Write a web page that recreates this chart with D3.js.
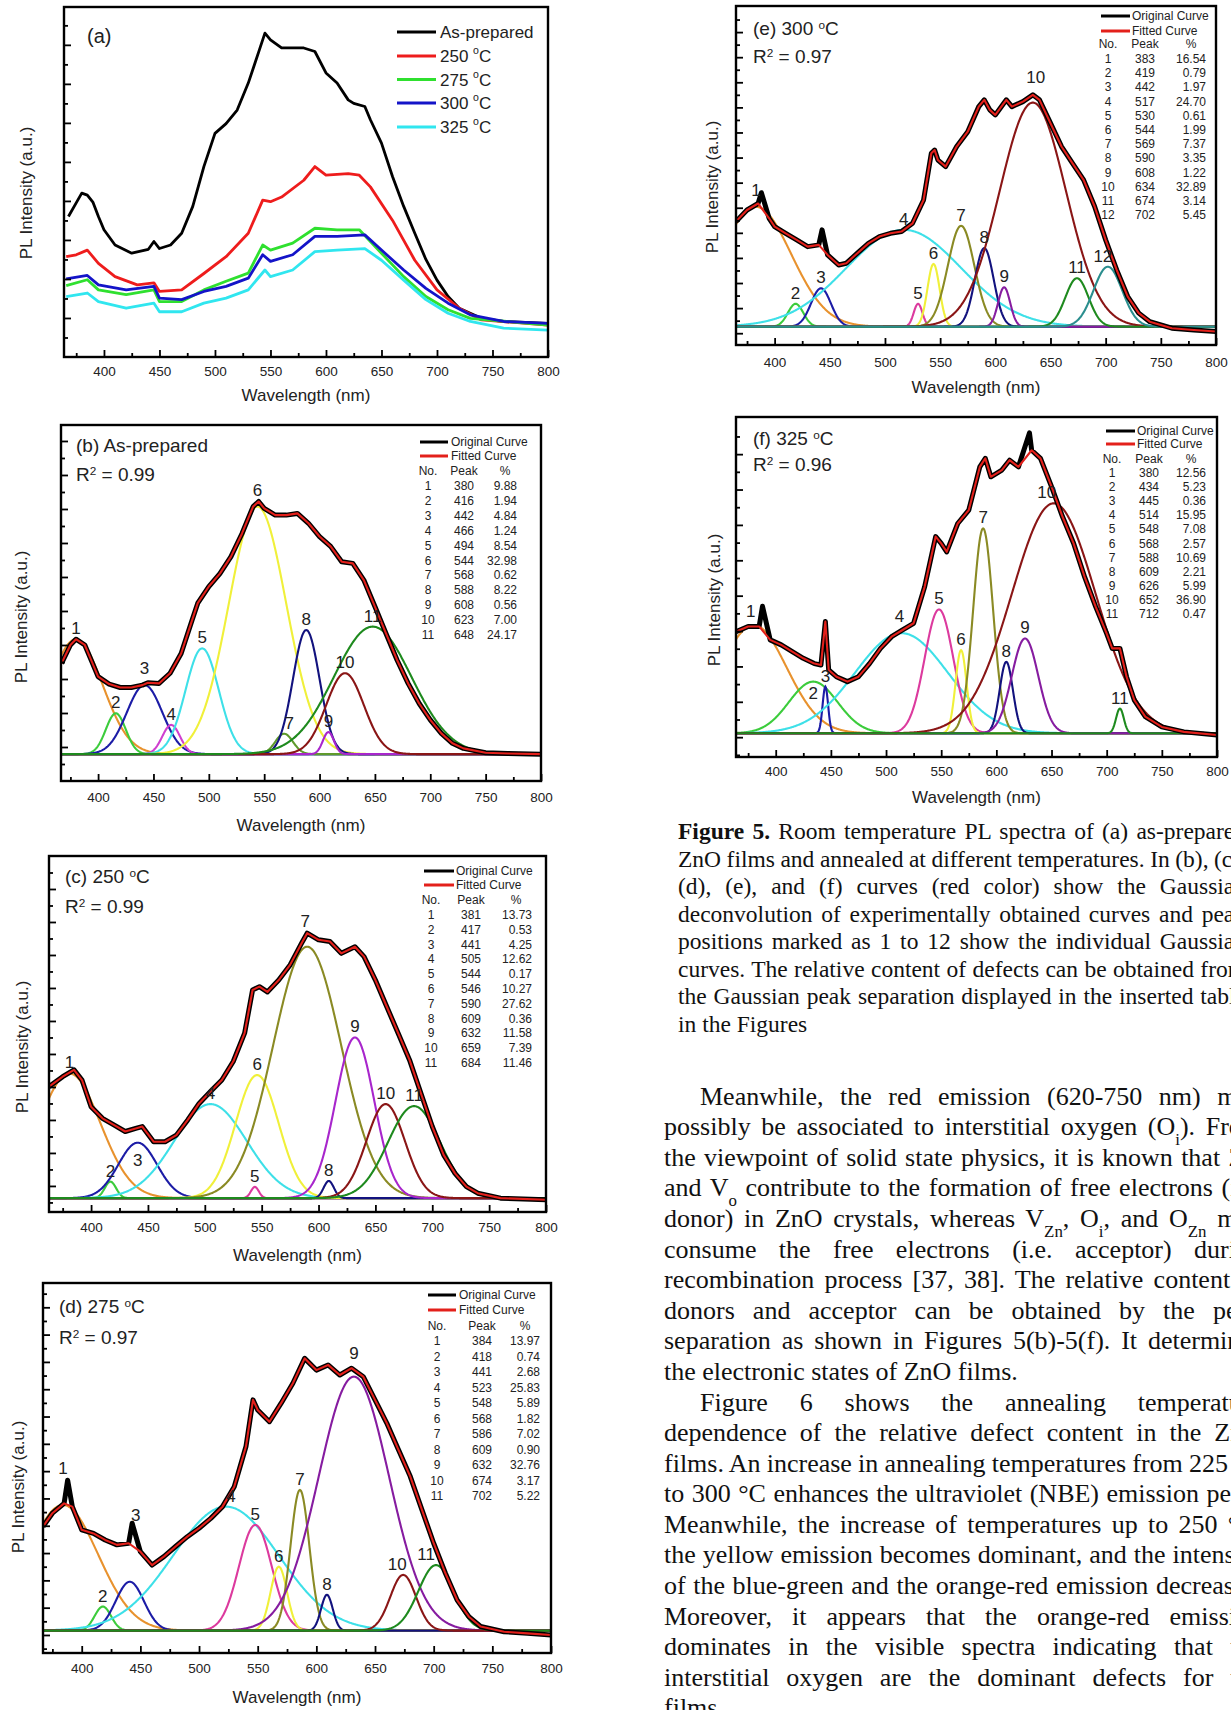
<!DOCTYPE html>
<html>
<head>
<meta charset="utf-8">
<script src="https://cdn.jsdelivr.net/npm/d3@7"></script>
<style>
  html, body { margin: 0; padding: 0; background: #fff; }
  svg { display: block; }
</style>
</head>
<body>
<div id="page"></div>
<script>
// ---------- data (wavelength nm, intensity a.u.) ----------

// (a) raw spectra
const aAsPrepared = [[368,3.6],[375,3.95],[380,4.2],[385,4.15],[390,3.97],[395,3.6],[400,3.26],[410,2.87],[425,2.66],[440,2.76],[445,2.96],[450,2.78],[460,2.87],[470,3.17],[480,3.86],[490,4.88],[500,5.73],[510,5.98],[520,6.33],[530,7.02],[540,7.87],[545,8.3],[550,8.13],[560,7.92],[570,7.92],[580,7.92],[590,7.83],[600,7.28],[610,7.02],[620,6.59],[625,6.5],[635,6.42],[640,6.08],[650,5.48],[660,4.62],[670,3.86],[680,3.17],[690,2.5],[700,1.97],[710,1.55],[720,1.25],[740,0.99],[760,0.91],[800,0.86]];
const a250 = [[366,2.57],[375,2.62],[385,2.74],[395,2.4],[410,2.06],[430,1.85],[445,1.9],[450,1.68],[470,1.72],[490,2.14],[510,2.57],[530,3.17],[543,4.02],[550,3.98],[560,4.1],[580,4.53],[590,4.88],[600,4.66],[620,4.7],[630,4.66],[640,4.36],[660,3.5],[680,2.48],[700,1.72],[720,1.25],[740,0.95],[800,0.82]];
const a275 = [[366,1.83],[385,1.98],[395,1.72],[420,1.6],[445,1.72],[450,1.42],[470,1.42],[490,1.72],[510,1.94],[530,2.15],[543,2.87],[550,2.74],[570,2.92],[590,3.3],[610,3.26],[630,3.26],[650,2.66],[670,2.06],[690,1.55],[710,1.21],[730,0.99],[800,0.82]];
const a300 = [[366,2.0],[385,2.09],[395,1.85],[420,1.72],[445,1.81],[450,1.51],[470,1.47],[490,1.68],[510,1.81],[530,2.02],[543,2.62],[550,2.45],[570,2.62],[590,3.09],[610,3.09],[635,3.13],[650,2.74],[670,2.23],[690,1.76],[710,1.38],[730,1.08],[760,0.91],[800,0.86]];
const a325 = [[366,1.55],[385,1.64],[395,1.42],[420,1.25],[445,1.38],[450,1.16],[470,1.16],[490,1.38],[510,1.51],[530,1.72],[545,2.23],[550,2.06],[570,2.23],[590,2.7],[610,2.74],[635,2.78],[650,2.48],[670,1.97],[690,1.47],[710,1.12],[730,0.91],[760,0.74],[800,0.69]];
const aNames = ["As-prepared", "250", "275", "300", "325"];

// (b) as-prepared
const bSpectrum = [[367,3.46],[375,4.0],[380,4.17],[388,4.0],[395,3.46],[400,3.07],[410,2.85],[420,2.75],[430,2.75],[440,2.82],[445,2.89],[455,2.87],[465,3.17],[475,3.75],[485,4.74],[490,5.23],[500,5.72],[510,6.1],[520,6.6],[530,7.28],[540,8.07],[545,8.22],[550,8.02],[560,7.82],[570,7.82],[580,7.87],[590,7.58],[600,7.19],[610,6.9],[620,6.45],[630,6.4],[640,5.91],[650,5.13],[660,4.34],[670,3.56],[680,2.87],[690,2.28],[700,1.8],[710,1.4],[720,1.11],[730,0.96],[750,0.83],[770,0.81],[800,0.79]];
const bSpikes = [];
const bPeaks = [380,416,442,466,494,544,568,588,608,623,648];
const bPct = [9.88,1.94,4.84,1.24,8.54,32.98,0.62,8.22,0.56,7.00,24.17];
const bAmp = [3.38,1.2,2.03,0.86,3.11,7.28,0.6,3.65,0.65,2.38,3.75];
const bSigma = [24,9,16,8,15,26,8,12,5,17,35];
const bBase = 0.79;

// (c) 250 C
const cSpectrum = [[363,3.01],[375,3.31],[385,3.52],[392,3.21],[400,2.4],[410,2.05],[420,1.85],[430,1.65],[440,1.75],[445,1.8],[455,1.34],[465,1.34],[475,1.54],[485,2.0],[495,2.5],[505,2.86],[515,3.21],[525,3.77],[535,4.63],[542,5.94],[548,6.04],[555,5.88],[565,6.24],[575,6.7],[585,7.35],[590,7.66],[600,7.46],[610,7.41],[620,7.05],[632,7.25],[640,6.95],[650,6.24],[660,5.43],[670,4.63],[680,3.82],[690,2.81],[700,1.8],[710,0.94],[720,0.38],[730,-0.02],[740,-0.22],[760,-0.37],[800,-0.42]];
const cSpikes = [];
const cPeaks = [381,417,441,505,544,546,590,609,632,659,684];
const cPct = [13.73,0.53,4.25,12.62,0.17,10.27,27.62,0.36,11.58,7.39,11.46];
const cAmp = [3.78,0.5,1.68,2.85,0.34,3.73,7.62,0.52,4.87,2.85,2.79];
const cSigma = [27,5,17,32,3.5,19,30,4.5,17,17,23];
const cBase = -0.37;

// (d) 275 C
const dSpectrum = [[367,3.97],[375,4.46],[385,4.82],[392,4.7],[400,3.85],[410,3.72],[420,3.48],[430,3.3],[440,3.36],[450,3.05],[460,2.56],[470,2.87],[480,3.24],[490,3.6],[500,3.91],[510,4.27],[520,4.7],[530,5.43],[540,6.9],[546,8.61],[550,8.24],[560,7.81],[570,8.49],[580,9.22],[590,10.13],[600,9.7],[610,9.89],[620,9.52],[630,9.77],[640,9.46],[650,8.61],[660,7.76],[670,6.78],[680,5.81],[690,4.58],[700,3.36],[710,2.26],[720,1.28],[730,0.67],[740,0.31],[760,0.12],[780,0.06],[800,0.0]];
const dSpikes = [[388,5.67],[443,4.09]];
const dPeaks = [384,418,441,523,548,568,586,609,632,674,702];
const dPct = [13.97,0.74,2.68,25.83,5.89,1.82,7.02,0.90,32.76,3.17,5.22];
const dAmp = [4.6,0.88,1.79,4.54,3.87,2.34,5.15,1.31,9.3,2.04,2.4];
const dSigma = [30,7,12,45,14,7,8,5,30,11,15];
const dBase = 0.16;

// (e) 300 C
const eSpectrum = [[365,4.45],[375,4.91],[385,5.17],[395,4.58],[400,4.25],[410,3.98],[420,3.72],[430,3.45],[440,3.52],[448,3.12],[458,2.72],[465,2.79],[475,3.19],[485,3.58],[495,3.85],[505,3.98],[515,4.05],[525,4.38],[535,5.31],[542,7.17],[545,7.3],[548,6.9],[555,6.64],[565,7.44],[575,8.03],[585,9.03],[590,9.3],[595,8.9],[600,8.7],[610,9.3],[615,9.03],[625,9.23],[634,9.5],[640,9.3],[650,8.37],[660,7.44],[670,6.77],[680,6.11],[690,5.05],[700,3.72],[710,2.52],[720,1.46],[730,0.8],[740,0.46],[760,0.2],[780,0.13],[800,0.07]];
const eSpikes = [[388,5.6],[443,4.12]];
const ePeaks = [383,419,442,517,530,544,569,590,608,634,674,702];
const ePct = [16.54,0.79,1.97,24.70,0.61,1.99,7.37,3.35,1.22,32.89,3.14,5.45];
const eAmp = [4.78,0.91,1.53,3.86,0.91,2.5,4.02,3.13,1.57,8.93,1.93,2.39];
const eSigma = [32,7,9,52,4,5.5,12,8.5,5.5,30,10.5,13];
const eBase = 0.26;

// (f) 325 C
const fSpectrum = [[364,2.98],[375,3.13],[385,3.13],[395,2.75],[405,2.61],[415,2.42],[425,2.23],[435,2.08],[441,2.04],[445,3.27],[448,1.9],[455,1.71],[465,1.57],[475,1.71],[485,2.08],[495,2.51],[505,2.84],[515,3.03],[525,3.22],[535,4.25],[545,5.67],[550,5.48],[555,5.24],[565,6.04],[575,6.42],[585,7.64],[590,7.88],[595,7.36],[605,7.55],[612,7.83],[620,7.64],[632,8.11],[640,7.88],[650,7.08],[660,6.23],[670,5.48],[680,4.53],[690,3.69],[700,2.93],[705,2.51],[712,2.51],[718,1.71],[725,1.05],[735,0.58],[750,0.29],[770,0.15],[800,0.06]];
const fSpikes = [[388,3.7],[630,8.6]];
const fPeaks = [380,434,445,514,548,568,588,609,626,652,712];
const fPct = [12.56,5.23,0.36,15.95,7.08,2.57,10.69,2.21,5.99,36.90,0.47];
const fAmp = [3.06,1.46,1.32,2.83,3.5,2.35,5.79,2.02,2.68,6.5,0.7];
const fSigma = [30,22,2.5,42,13,5,9,6,12,38,3.5];
const fBase = 0.11;

const xMajorTicks = [400,450,500,550,600,650,700,750,800];
const xMinorTicks = [375,425,475,525,575,625,675,725,775];

// ---------- drawing ----------
const W = 1231, H = 1710;
const SANS = '"Liberation Sans", Arial, sans-serif';
const SERIF = '"Liberation Serif", "Times New Roman", serif';
const svg = d3.select("#page").append("svg").attr("width", W).attr("height", H).style("background", "#fff");

function rich(t, segs, size) {
  segs.forEach(s => {
    const [str, kind] = Array.isArray(s) ? s : [s, null];
    const ts = t.append("tspan").text(str);
    if (kind === "sup") ts.attr("font-size", size * 0.62).attr("baseline-shift", "super");
    else if (kind === "sub") ts.attr("font-size", size * 0.65).attr("baseline-shift", "sub");
    else if (kind === "bold") ts.attr("font-weight", "bold");
  });
  return t;
}

// justify a line by widening the gaps between words, like a word processor does
function justify(t, target) {
  const natural = t.node().getComputedTextLength();
  const gaps = (t.text().match(/ /g) || []).length;
  if (gaps) t.attr("word-spacing", (target - natural) / gaps);
}

function frame(p) {
  const x = d3.scaleLinear().domain(p.xDom).range([p.L, p.R]);
  const y = d3.scaleLinear().domain(p.yDom).range([p.B, p.T]);
  const g = svg.append("g");
  svg.append("clipPath").attr("id", "clip-" + p.id).append("rect")
    .attr("x", p.L).attr("y", p.T).attr("width", p.R - p.L).attr("height", p.B - p.T);
  const plot = g.append("g").attr("clip-path", `url(#clip-${p.id})`);
  const axes = g.append("g");

  const style = s => {
    s.select(".domain").remove();
    s.selectAll("line").attr("stroke", "#000").attr("stroke-width", 1.8);
    s.attr("font-family", SANS).attr("font-size", 13.5);
    s.selectAll("text").attr("fill", "#222").attr("dy", "0.35em");
  };
  axes.append("g").attr("transform", `translate(0,${p.B})`)
    .call(d3.axisBottom(x).tickValues(xMajorTicks).tickSize(-7).tickPadding(p.labOff).tickFormat(d3.format("d")))
    .call(style);
  axes.append("g").attr("transform", `translate(0,${p.B})`)
    .call(d3.axisBottom(x).tickValues(xMinorTicks).tickSize(-4).tickFormat(""))
    .call(style);
  const yMinor = p.yTicks.map(v => v + 0.5).concat([p.yTicks[0] - 0.5])
    .filter(v => v > p.yDom[0] && v < p.yDom[1]);
  axes.append("g").attr("transform", `translate(${p.L},0)`)
    .call(d3.axisLeft(y).tickValues(p.yTicks).tickSize(-7).tickFormat(""))
    .call(style);
  axes.append("g").attr("transform", `translate(${p.L},0)`)
    .call(d3.axisLeft(y).tickValues(yMinor).tickSize(-4).tickFormat(""))
    .call(style);

  g.append("rect").attr("x", p.L).attr("y", p.T).attr("width", p.R - p.L).attr("height", p.B - p.T)
    .attr("fill", "none").attr("stroke", "#000").attr("stroke-width", 2.4);

  g.append("text").attr("x", (p.L + p.R) / 2).attr("y", p.B + p.titleOff)
    .attr("text-anchor", "middle").attr("dominant-baseline", "central")
    .attr("font-family", SANS).attr("font-size", 17).attr("fill", "#222").text("Wavelength (nm)");
  g.append("text").attr("transform", `translate(${p.ylab[0]},${p.ylab[1]}) rotate(-90)`)
    .attr("text-anchor", "middle").attr("dominant-baseline", "central")
    .attr("font-family", SANS).attr("font-size", 17).attr("fill", "#222").text("PL Intensity (a.u.)");
  return { x, y, plot, g };
}

// ----- panel (a) -----
(function () {
  const p = { id: "a", L: 64, R: 548, T: 7, B: 357, xDom: [364, 800], yDom: [0, 8.97], yTicks: d3.range(1, 9),
    labOff: 14, titleOff: 38, ylab: [26, 193] };
  const { x, y, plot, g } = frame(p);
  const line = d3.line().x(d => x(d[0])).y(d => y(d[1]));
  const series = [aAsPrepared, a250, a275, a300, a325];
  const colors = ["#000000", "#ee1c1c", "#2fe02f", "#1414c8", "#30e6ef"];
  series.forEach((s, i) => {
    plot.append("path").datum(s).attr("d", line).attr("fill", "none")
      .attr("stroke", colors[i]).attr("stroke-width", 2.8).attr("stroke-linejoin", "round");
  });
  g.append("text").attr("x", 87).attr("y", 43).attr("font-family", SANS).attr("font-size", 20).attr("fill", "#222").text("(a)");
  const rows = [32, 56, 79.5, 103, 127];
  aNames.forEach((n, i) => {
    g.append("line").attr("x1", 397).attr("x2", 436).attr("y1", rows[i]).attr("y2", rows[i])
      .attr("stroke", colors[i]).attr("stroke-width", 3);
    const t = g.append("text").attr("x", 440).attr("y", rows[i]).attr("dominant-baseline", "central")
      .attr("font-family", SANS).attr("font-size", 17).attr("fill", "#222");
    if (i === 0) t.text(n); else rich(t, [n + " ", ["o", "sup"], "C"], 17);
  });
})();

// ----- fitted panels -----
function fitPanel(p, d) {
  const { x, y, plot, g } = frame(p);
  const line = d3.line().x(v => x(v[0])).y(v => y(v[1]));
  const ws = d3.range(p.xDom[0], 800.001, 0.5);
  d.peaks.forEach((c, i) => {
    const pts = ws.map(w => [w, d.base + d.amp[i] * Math.exp(-0.5 * ((w - c) / d.sigma[i]) ** 2)]);
    plot.append("path").datum(pts).attr("d", line).attr("fill", "none")
      .attr("stroke", p.colors[i]).attr("stroke-width", 2.1);
  });
  const orig = d.spectrum.concat(d.spikes).sort((a, b) => a[0] - b[0]);
  plot.append("path").datum(orig).attr("d", line).attr("fill", "none")
    .attr("stroke", "#000").attr("stroke-width", 5).attr("stroke-linejoin", "round");
  plot.append("path").datum(d.spectrum).attr("d", line).attr("fill", "none")
    .attr("stroke", "#e3201b").attr("stroke-width", 2.1).attr("stroke-linejoin", "round");

  // peak numbers
  d.peaks.forEach((c, i) => {
    const n = p.nudge[i + 1] || [0, 0];
    g.append("text").attr("x", x(c) + n[0]).attr("y", y(d.base + d.amp[i]) - 5 + n[1])
      .attr("text-anchor", "middle").attr("font-family", SANS).attr("font-size", 17).attr("fill", "#222")
      .text(i + 1);
  });

  // title + R^2
  rich(g.append("text").attr("x", p.title[0]).attr("y", p.title[1]).attr("font-family", SANS)
    .attr("font-size", 19).attr("fill", "#222"), p.titleSegs, 19);
  rich(g.append("text").attr("x", p.title[0]).attr("y", p.title[2]).attr("font-family", SANS)
    .attr("font-size", 19).attr("fill", "#222"), ["R", ["2", "sup"], " = " + p.r2], 19);

  // legend + table
  const L = p.leg;
  const tg = g.append("g").attr("font-family", SANS).attr("font-size", 12).attr("fill", "#222");
  [["#000", "Original Curve", L.r1], ["#e3201b", "Fitted Curve", L.r2]].forEach(([col, txt, ry]) => {
    tg.append("line").attr("x1", L.x1).attr("x2", L.x2).attr("y1", ry).attr("y2", ry)
      .attr("stroke", col).attr("stroke-width", 3);
    tg.append("text").attr("x", L.tx).attr("y", ry).attr("dominant-baseline", "central").text(txt);
  });
  tg.append("text").attr("x", L.noX).attr("y", L.hdr).attr("text-anchor", "middle").attr("dominant-baseline", "central").text("No.");
  tg.append("text").attr("x", L.pkX).attr("y", L.hdr).attr("text-anchor", "middle").attr("dominant-baseline", "central").text("Peak");
  tg.append("text").attr("x", L.pctH).attr("y", L.hdr).attr("text-anchor", "middle").attr("dominant-baseline", "central").text("%");
  d.peaks.forEach((c, i) => {
    const ry = L.row0 + i * L.dy;
    tg.append("text").attr("x", L.noX).attr("y", ry).attr("text-anchor", "middle").attr("dominant-baseline", "central").text(i + 1);
    tg.append("text").attr("x", L.pkX).attr("y", ry).attr("text-anchor", "middle").attr("dominant-baseline", "central").text(c);
    tg.append("text").attr("x", L.pctR).attr("y", ry).attr("text-anchor", "end").attr("dominant-baseline", "central").text(d.pct[i].toFixed(2));
  });
}

const pal = {
  orange: "#e8922e", green: "#3ccc3c", blue: "#1c1ca6", magenta: "#cf3fcf", cyan: "#3ee0e8",
  yellow: "#f0f03a", olive: "#8a8a24", oliveGreen: "#5f9a2c", navy: "#12127e", violet: "#a826cc",
  purple: "#861ca0", pink: "#dc3a9e", wine: "#8a1616", dkgreen: "#1e8a1e", teal: "#2a8e8e"
};

fitPanel({ id: "b", L: 61, R: 541, T: 425, B: 781, xDom: [366.5, 800], yDom: [0, 10.47], yTicks: d3.range(1, 11),
  labOff: 16, titleOff: 44, ylab: [21, 617], title: [76, 452, 481], titleSegs: ["(b) As-prepared"], r2: "0.99",
  leg: { x1: 420, x2: 448, tx: 451, r1: 442, r2: 456, hdr: 471, row0: 486, dy: 14.9, noX: 428, pkX: 464, pctR: 517, pctH: 505 },
  colors: [pal.orange, pal.green, pal.blue, pal.magenta, pal.cyan, pal.yellow, pal.oliveGreen, pal.navy, pal.violet, pal.wine, pal.dkgreen],
  nudge: { 3: [0, -6], 6: [0, -6], 7: [5, 0] } },
  { spectrum: bSpectrum, spikes: bSpikes, peaks: bPeaks, pct: bPct, amp: bAmp, sigma: bSigma, base: bBase });

fitPanel({ id: "c", L: 49, R: 546, T: 856, B: 1212, xDom: [363, 800], yDom: [-0.79, 10.0], yTicks: d3.range(0, 10),
  labOff: 15, titleOff: 43, ylab: [22, 1047], title: [65, 883, 913], titleSegs: ["(c) 250 ", ["o", "sup"], "C"], r2: "0.99",
  leg: { x1: 424, x2: 454, tx: 456, r1: 871, r2: 885, hdr: 900, row0: 915, dy: 14.8, noX: 431, pkX: 471, pctR: 532, pctH: 516 },
  colors: [pal.orange, pal.green, pal.blue, pal.cyan, pal.pink, pal.yellow, pal.olive, pal.navy, pal.violet, pal.wine, pal.dkgreen],
  nudge: { 3: [0, 28], 7: [-2, -15] } },
  { spectrum: cSpectrum, spikes: cSpikes, peaks: cPeaks, pct: cPct, amp: cAmp, sigma: cSigma, base: cBase });

fitPanel({ id: "d", L: 43, R: 551, T: 1283, B: 1653, xDom: [367, 800], yDom: [-0.66, 12.89], yTicks: d3.range(0, 13),
  labOff: 15, titleOff: 44, ylab: [18, 1487], title: [59, 1313, 1344], titleSegs: ["(d) 275 ", ["o", "sup"], "C"], r2: "0.97",
  leg: { x1: 428, x2: 456, tx: 459, r1: 1295, r2: 1310, hdr: 1326, row0: 1341, dy: 15.5, noX: 437, pkX: 482, pctR: 540, pctH: 525 },
  colors: [pal.orange, pal.green, pal.blue, pal.cyan, pal.pink, pal.yellow, pal.olive, pal.navy, pal.purple, pal.wine, pal.dkgreen],
  nudge: { 1: [0, -26], 3: [6, -56], 4: [5, 0], 9: [0, -13], 10: [-6, 0], 11: [-10, 0] } },
  { spectrum: dSpectrum, spikes: dSpikes, peaks: dPeaks, pct: dPct, amp: dAmp, sigma: dSigma, base: dBase });

fitPanel({ id: "e", L: 736, R: 1216, T: 6, B: 345, xDom: [365, 800], yDom: [-0.47, 13.04], yTicks: d3.range(0, 13),
  labOff: 17, titleOff: 42, ylab: [712, 187], title: [753, 35, 63], titleSegs: ["(e) 300 ", ["o", "sup"], "C"], r2: "0.97",
  leg: { x1: 1101, x2: 1130, tx: 1132, r1: 16, r2: 31, hdr: 44, row0: 59, dy: 14.2, noX: 1108, pkX: 1145, pctR: 1206, pctH: 1191 },
  colors: [pal.orange, pal.green, pal.blue, pal.cyan, pal.pink, pal.yellow, pal.olive, pal.navy, pal.purple, pal.wine, pal.dkgreen, pal.teal],
  nudge: { 1: [0, -6], 10: [3, -15], 12: [-5, 0] } },
  { spectrum: eSpectrum, spikes: eSpikes, peaks: ePeaks, pct: ePct, amp: eAmp, sigma: eSigma, base: eBase });

fitPanel({ id: "f", L: 736, R: 1217, T: 417, B: 757, xDom: [364, 800], yDom: [-0.56, 9.05], yTicks: d3.range(0, 9),
  labOff: 14, titleOff: 40, ylab: [714, 600], title: [753, 445, 471], titleSegs: ["(f) 325 ", ["o", "sup"], "C"], r2: "0.96",
  leg: { x1: 1106, x2: 1135, tx: 1137, r1: 431, r2: 444, hdr: 459, row0: 473, dy: 14.1, noX: 1112, pkX: 1149, pctR: 1206, pctH: 1191 },
  colors: [pal.orange, pal.green, pal.blue, pal.cyan, pal.pink, pal.yellow, pal.olive, pal.navy, pal.purple, pal.wine, pal.dkgreen],
  nudge: { 1: [-3, -3], 2: [0, 22], 4: [-2, -6], 10: [-7, 0] } },
  { spectrum: fSpectrum, spikes: fSpikes, peaks: fPeaks, pct: fPct, amp: fAmp, sigma: fSigma, base: fBase });

// ---------- caption and body text ----------
const captionLines = [
  [["Figure 5.", "bold"], " Room temperature PL spectra of (a) as-prepared"],
  ["ZnO films and annealed at different temperatures. In (b), (c),"],
  ["(d), (e), and (f) curves (red color) show the Gaussian"],
  ["deconvolution of experimentally obtained curves and peak"],
  ["positions marked as 1 to 12 show the individual Gaussian"],
  ["curves. The relative content of defects can be obtained from"],
  ["the Gaussian peak separation displayed in the inserted table"],
  ["in the Figures"]
];
const bodyLines = [
  ["Meanwhile, the red emission (620-750 nm) may"],
  ["possibly be associated to interstitial oxygen (O", ["i", "sub"], "). From"],
  ["the viewpoint of solid state physics, it is known that Zn", ["i", "sub"]],
  ["and V", ["o", "sub"], " contribute to the formation of free electrons (i.e."],
  ["donor) in ZnO crystals, whereas V", ["Zn", "sub"], ", O", ["i", "sub"], ", and O", ["Zn", "sub"], " may"],
  ["consume the free electrons (i.e. acceptor) during"],
  ["recombination process [37, 38]. The relative content of"],
  ["donors and acceptor can be obtained by the peak"],
  ["separation as shown in Figures 5(b)-5(f). It determines"],
  ["the electronic states of ZnO films."],
  ["Figure 6 shows the annealing temperature"],
  ["dependence of the relative defect content in the ZnO"],
  ["films. An increase in annealing temperatures from 225 °C"],
  ["to 300 °C enhances the ultraviolet (NBE) emission peak."],
  ["Meanwhile, the increase of temperatures up to 250 °C,"],
  ["the yellow emission becomes dominant, and the intensity"],
  ["of the blue-green and the orange-red emission decreases."],
  ["Moreover, it appears that the orange-red emission"],
  ["dominates in the visible spectra indicating that the"],
  ["interstitial oxygen are the dominant defects for the"],
  ["films."]
];
const bodyIndent = [0, 10];
const bodyLast = [9, 20];

const capX = 678, capR = 1246, capY0 = 839.3, capDy = 27.53, capSize = 23.5;
captionLines.forEach((segs, i) => {
  const t = svg.append("text").attr("x", capX).attr("y", capY0 + i * capDy)
    .attr("font-family", SERIF).attr("font-size", capSize).attr("fill", "#111");
  rich(t, segs, capSize);
  if (i < captionLines.length - 1) justify(t, capR - capX);
});

const bodyX = 664, bodyInd = 700, bodyR = 1262, bodyY0 = 1104.7, bodyDy = 30.58, bodySize = 26;
bodyLines.forEach((segs, i) => {
  const x0 = bodyIndent.includes(i) ? bodyInd : bodyX;
  const t = svg.append("text").attr("x", x0).attr("y", bodyY0 + i * bodyDy)
    .attr("font-family", SERIF).attr("font-size", bodySize).attr("fill", "#111");
  rich(t, segs, bodySize);
  if (!bodyLast.includes(i)) justify(t, bodyR - x0);
});
</script>
</body>
</html>
